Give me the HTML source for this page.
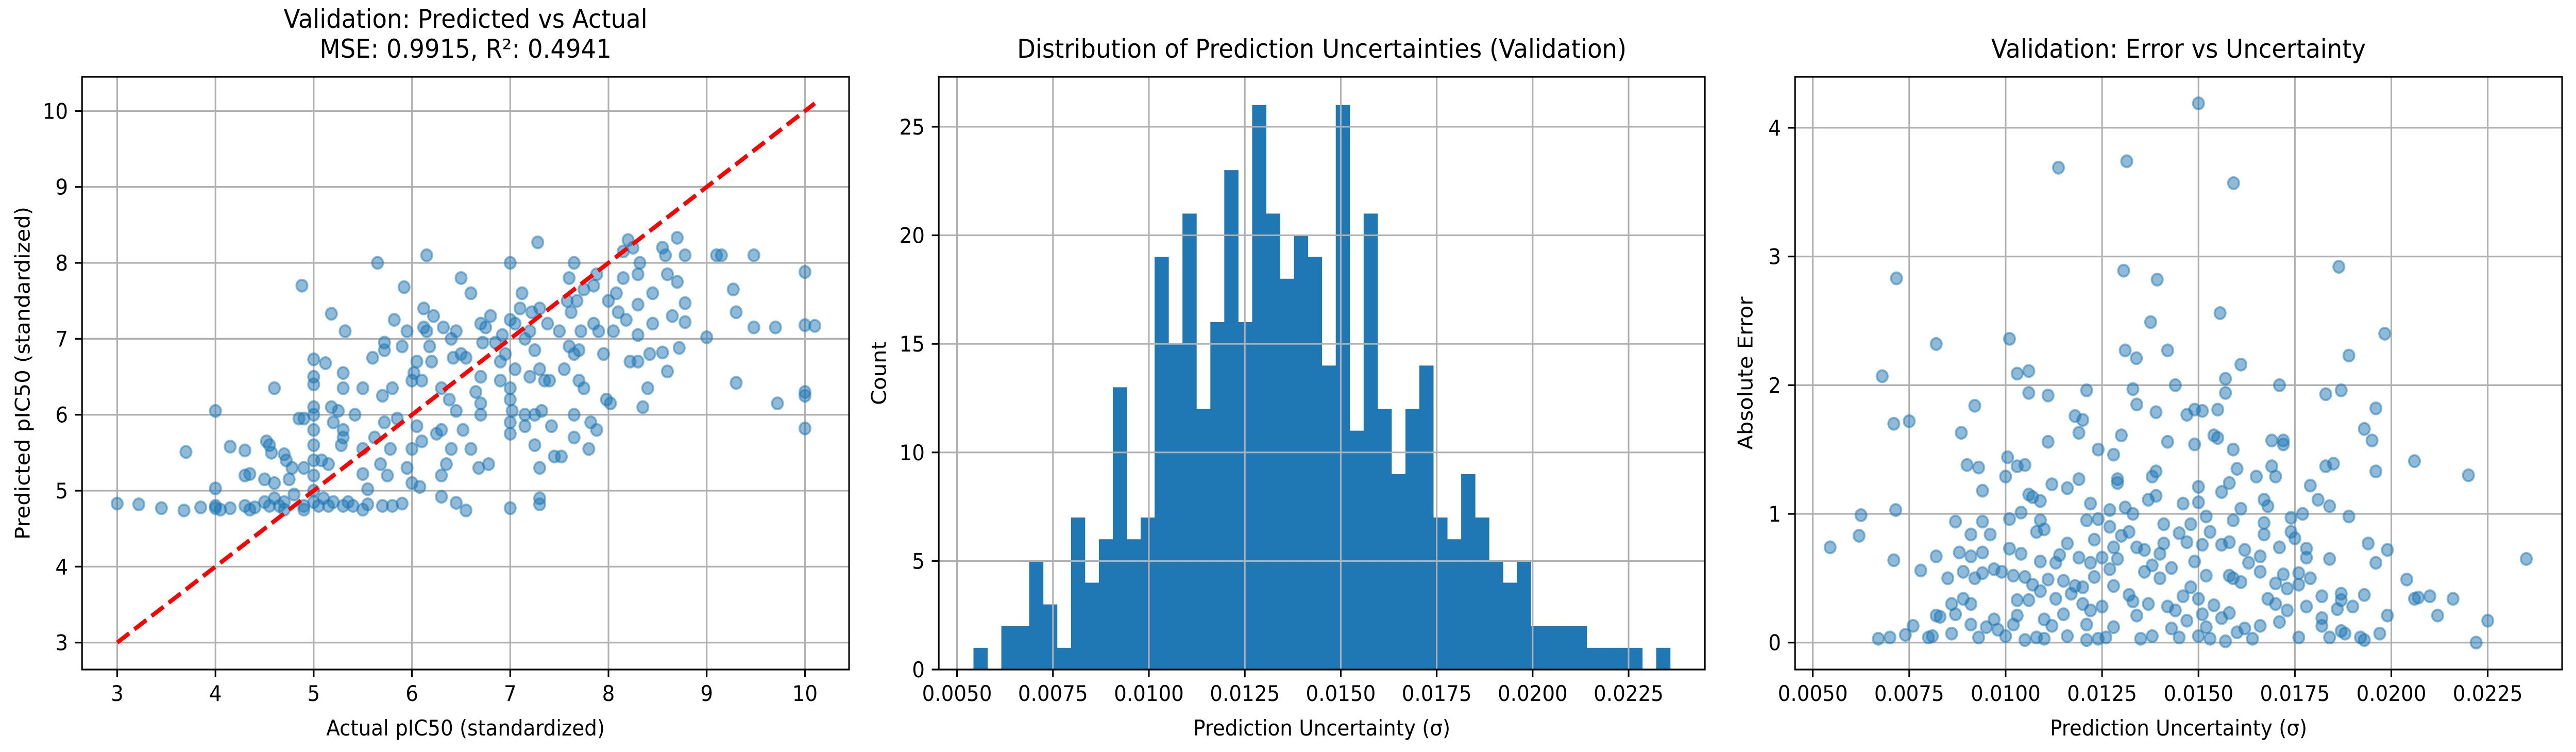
<!DOCTYPE html>
<html><head><meta charset="utf-8"><style>
html,body{margin:0;padding:0;background:#fff;width:100%;height:100%;overflow:hidden;}
svg{display:block;position:fixed;left:0;top:0;width:100vw;height:100vh;font-family:"DejaVu Sans","Liberation Sans",sans-serif;}
</style></head><body>
<svg id="fig" viewBox="0 0 5370 1459" preserveAspectRatio="none" xmlns="http://www.w3.org/2000/svg"></svg>
<script>
// ---------- Panel 1 data: predicted vs actual ----------
const p1Actual = [3.0,3.22,3.45,3.68,3.85,4.0,4.0,4.0,4.05,4.15,4.3,4.35,4.4,4.5,4.55,4.6,4.65,4.7,4.7,4.8,4.9,4.9,5.0,5.05,5.1,5.15,5.2,5.3,5.35,5.4,5.5,5.55,5.7,5.8,5.9,6.3,6.45,6.55,7.0,7.3,7.3,
3.7,4.0,4.15,4.3,4.3,4.35,4.5,4.52,4.55,4.57,4.6,4.6,4.7,4.72,4.75,4.78,4.85,4.88,4.9,4.9,5.0,5.0,5.0,5.0,5.0,5.0,5.0,5.0,5.0,5.0,5.08,5.12,5.15,5.18,5.18,5.2,5.25,5.28,5.3,5.3,5.3,5.3,5.32,5.42,5.5,5.5,5.5,5.55,5.6,5.62,5.65,5.68,5.7,5.72,5.72,5.72,5.75,5.78,5.8,5.82,5.85,5.9,5.92,5.95,5.95,6.0,6.0,6.0,6.02,6.05,6.05,6.08,6.1,6.1,6.12,6.12,6.15,6.15,6.18,6.2,6.22,6.25,6.3,6.3,6.3,6.32,6.35,6.38,6.4,6.4,6.42,6.45,6.45,6.5,6.5,6.52,6.55,6.6,6.6,6.65,6.68,6.7,6.7,6.7,6.7,6.72,6.75,6.78,6.8,6.85,6.9,6.9,6.92,6.95,7.0,7.0,7.0,7.0,7.0,7.0,7.02,7.05,7.05,7.1,7.12,7.15,7.15,7.15,7.2,7.2,7.22,7.25,7.25,7.25,7.28,7.3,7.3,7.3,7.32,7.35,7.38,7.4,7.42,7.45,7.5,7.52,7.55,7.58,7.6,7.6,7.62,7.65,7.65,7.65,7.65,7.68,7.7,7.7,7.72,7.75,7.75,7.8,7.82,7.85,7.85,7.88,7.88,7.9,7.95,7.98,8.0,8.02,8.05,8.08,8.1,8.15,8.15,8.18,8.2,8.22,8.25,8.3,8.3,8.3,8.3,8.32,8.35,8.4,8.42,8.45,8.45,8.55,8.55,8.58,8.6,8.6,8.65,8.7,8.7,8.72,8.78,8.78,8.78,9.0,9.1,9.15,9.27,9.3,9.3,9.48,9.48,9.7,9.72,10.0,10.0,10.0,10.0,10.0,10.1];
const p1Pred = [4.83,4.82,4.77,4.74,4.78,4.8,5.03,4.77,4.75,4.77,4.8,4.75,4.78,4.85,4.8,4.9,4.8,4.75,4.85,4.95,4.75,4.8,4.85,4.8,4.9,4.8,4.85,4.8,4.85,4.8,4.75,4.82,4.8,4.8,4.83,4.92,4.84,4.74,4.77,4.82,4.9,
5.51,6.05,5.58,5.53,5.2,5.22,5.15,5.65,5.6,5.5,5.1,6.35,5.48,5.4,5.15,5.3,5.95,7.7,5.3,5.95,5.0,5.2,5.4,5.6,5.8,6.0,6.1,6.4,6.5,6.73,5.4,6.68,5.35,7.33,6.1,5.9,6.05,5.6,5.8,5.7,6.35,6.55,7.1,6.0,5.55,5.22,6.35,5.02,6.75,5.7,8.0,5.35,6.25,6.95,6.85,5.9,5.2,5.55,6.35,7.25,5.95,6.9,7.68,7.1,5.3,5.55,5.1,6.45,6.55,6.7,5.85,5.05,5.65,6.45,7.4,7.15,8.1,7.1,6.9,6.7,7.3,5.75,5.2,5.8,6.35,7.15,5.35,6.2,7.0,5.55,6.75,7.1,6.05,7.8,6.8,5.8,6.75,7.6,5.55,6.3,5.3,6.0,6.15,6.5,7.2,6.95,7.15,5.35,7.3,6.95,6.45,6.7,7.05,6.8,8.0,5.9,5.75,6.2,6.35,7.25,6.05,7.2,6.6,7.4,7.6,6.0,5.85,7.0,6.5,7.1,7.35,6.0,5.6,6.85,8.27,5.3,6.6,7.4,6.05,6.45,7.2,6.45,5.85,5.45,7.1,5.45,6.6,7.5,7.8,6.9,7.35,8.0,6.0,5.7,6.8,7.5,6.45,6.85,7.1,7.65,6.35,5.55,5.9,7.2,7.7,5.8,7.85,7.1,6.8,6.2,7.5,6.15,7.1,7.6,7.35,7.8,8.15,7.25,8.3,6.7,8.2,7.45,7.05,6.7,7.85,8.0,6.1,6.35,6.8,7.2,7.6,8.2,6.82,8.1,6.57,7.85,7.3,8.33,7.75,6.88,8.1,7.47,7.22,7.02,8.1,8.1,7.65,7.35,6.42,8.1,7.15,7.15,6.15,7.88,7.18,6.3,6.25,5.82,7.17];
const p1XTicks = [3,4,5,6,7,8,9,10];
const p1YTicks = [3,4,5,6,7,8,9,10];

// ---------- Panel 2 data: histogram ----------
const histCounts = [1,0,2,2,5,3,1,7,4,6,13,6,7,19,15,21,12,16,23,16,26,21,18,20,19,14,26,11,21,12,9,12,14,7,6,9,7,5,4,5,2,2,2,2,1,1,1,1,0,1];
const histMin = 0.005429;
const histMax = 0.023584;
const p2XTicks = [0.005,0.0075,0.01,0.0125,0.015,0.0175,0.02,0.0225];
const p2XLabels = ["0.0050","0.0075","0.0100","0.0125","0.0150","0.0175","0.0200","0.0225"];
const p2YTicks = [0,5,10,15,20,25];

// ---------- Panel 3 data: error vs uncertainty ----------
const p3Unc = [
0.00545,0.0062,0.00625,0.0067,0.0068,0.0070,0.0071,0.0071,0.00715,0.00717,
0.0074,0.0075,0.0076,0.0078,0.0080,0.0081,0.0082,0.0082,0.0082,0.0083,
0.0085,0.0086,0.0086,0.0087,0.0087,0.0088,0.00885,0.0089,0.0089,0.0090,
0.0091,0.0091,0.0091,0.0091,0.0092,0.0092,0.0093,0.0093,0.0094,0.0094,
0.0094,0.0094,0.0095,0.0096,0.0097,0.0097,0.0098,0.0099,0.0100,0.0100,
0.01005,0.0101,0.0101,0.0101,0.0102,0.0102,0.0103,0.0103,0.0103,0.0103,
0.0104,0.0104,0.0105,0.0105,0.0105,0.0106,0.0106,0.0106,0.0106,0.0107,
0.0107,0.0108,0.0108,0.0109,0.0109,0.0109,0.0109,0.0110,0.0110,0.0110,
0.0111,0.0111,0.0111,0.0112,0.0112,0.0113,0.0113,0.01137,0.0114,0.0115,
0.0115,0.0116,0.0116,0.0116,0.0117,0.0118,0.0118,0.0119,0.0119,0.0119,
0.0120,0.0120,0.0120,0.0121,0.0121,0.0121,0.0121,0.0122,0.0122,0.0122,
0.0123,0.0123,0.0124,0.0124,0.0124,0.0125,0.0125,0.0126,0.0127,0.0127,
0.0127,0.0128,0.0128,0.0128,0.0128,0.0129,0.0129,0.0129,0.0130,0.0130,
0.0131,0.01306,0.0131,0.0132,0.0132,0.0133,0.01314,0.0133,0.0133,0.0134,
0.0134,0.0134,0.01339,0.0135,0.0136,0.0136,0.0137,0.0137,0.0138,0.0138,
0.0138,0.01376,0.0139,0.0139,0.0139,0.0140,0.0140,0.01393,0.0141,0.0141,
0.0142,0.0142,0.0142,0.0143,0.0143,0.0144,0.0144,0.0145,0.0145,0.0146,
0.0146,0.0147,0.0147,0.0147,0.0148,0.0148,0.0149,0.0149,0.0150,0.0150,
0.0149,0.0150,0.0150,0.0150,0.0151,0.0151,0.0151,0.0152,0.0152,0.0152,
0.0153,0.0153,0.0154,0.0154,0.0155,0.0155,0.0156,0.0156,0.01556,0.0156,
0.0157,0.0157,0.0157,0.0158,0.0158,0.0158,0.0158,0.01591,0.0159,0.0159,
0.0159,0.0160,0.0160,0.0161,0.0161,0.0161,0.0162,0.0162,0.0163,0.0164,
0.0165,0.0166,0.0166,0.0166,0.0167,0.0167,0.0167,0.0168,0.0168,0.0169,
0.0169,0.0170,0.0170,0.0170,0.0171,0.0171,0.0171,0.0172,0.0172,0.0172,
0.0173,0.0173,0.0174,0.0174,0.0175,0.0176,0.0176,0.0176,0.0177,0.0178,
0.0178,0.0178,0.0179,0.0179,0.0181,0.0182,0.0182,0.0182,0.0183,0.0183,
0.0184,0.0184,0.0184,0.0185,0.01864,0.0186,0.0187,0.0187,0.0187,0.0187,
0.0188,0.01890,0.0189,0.0190,0.0192,0.0193,0.0193,0.0193,0.0194,0.0195,
0.0196,0.0196,0.0196,0.0197,0.01983,0.0199,0.0199,0.0204,0.0206,0.0206,
0.0207,0.0210,0.0212,0.0216,0.0220,0.0222,0.0225,0.0235];
const p3Err = [
0.74,0.83,0.99,0.03,2.07,0.04,1.70,0.64,1.03,2.83,
0.06,1.72,0.13,0.56,0.04,0.05,2.32,0.67,0.21,0.20,
0.50,0.07,0.30,0.22,0.94,0.70,1.63,0.34,0.55,1.38,
0.84,0.67,0.30,0.14,1.84,0.50,1.36,0.04,0.94,1.18,
0.54,0.70,0.12,0.84,0.57,0.18,0.10,0.55,1.29,0.05,
1.44,2.36,0.73,0.96,0.52,0.14,1.37,2.09,0.33,0.21,
0.69,1.01,1.38,0.51,0.02,1.94,2.11,1.15,0.33,1.13,
0.45,0.86,0.04,1.10,0.63,0.95,0.40,0.88,0.18,0.03,
1.92,1.56,0.49,1.23,0.13,0.62,0.34,3.69,0.68,0.22,
0.48,1.20,0.05,0.77,0.38,1.76,0.44,1.63,1.27,0.66,
1.73,0.43,0.30,0.95,0.02,0.14,1.96,1.08,0.62,0.25,
0.51,0.80,0.96,0.03,1.50,0.28,0.66,0.04,1.03,0.57,
0.90,1.46,0.44,0.74,0.12,1.27,1.24,0.65,1.61,0.83,
2.27,2.89,1.05,0.86,0.37,1.97,3.74,1.00,0.32,1.85,
0.74,0.21,2.21,0.03,0.55,0.72,1.11,0.30,0.60,0.05,
1.29,2.49,1.79,1.33,1.14,0.69,0.50,2.82,0.92,0.77,
2.27,1.56,0.28,0.58,0.11,2.00,0.25,0.85,0.04,1.08,
0.36,1.77,0.78,0.17,0.92,0.43,1.81,0.63,0.05,1.21,
1.54,4.19,1.09,0.34,0.22,1.80,0.76,0.12,0.52,0.98,
0.86,0.03,1.61,0.29,1.59,1.81,0.76,0.19,2.56,1.17,
1.94,2.05,0.01,0.52,1.24,0.78,0.23,3.57,1.50,0.95,
0.50,0.08,1.35,0.47,2.16,1.04,0.11,0.72,0.62,0.03,
1.29,0.55,0.67,0.13,1.11,0.93,0.84,1.06,0.34,1.57,
1.37,0.46,0.30,1.29,0.74,0.16,2.00,0.53,1.57,1.54,
0.25,0.42,0.97,0.86,0.81,0.54,0.45,0.04,1.00,0.66,
0.73,0.28,1.22,0.50,1.11,0.36,0.19,0.13,1.37,1.93,
1.06,0.04,0.65,1.39,2.92,0.26,0.38,0.33,1.96,0.09,
0.07,2.23,0.98,0.28,0.04,0.37,0.02,1.66,0.77,1.57,
1.82,0.62,1.33,0.07,2.40,0.72,0.21,0.49,0.34,1.41,
0.35,0.36,0.21,0.34,1.30,0.00,0.17,0.65];
const p3YTicks = [0,1,2,3,4];

// ---------- drawing helpers ----------
const NS = "http://www.w3.org/2000/svg";
const svg = document.getElementById('fig');
function el(tag, attrs, parent){
  const e = document.createElementNS(NS, tag);
  for (const k in attrs) e.setAttribute(k, attrs[k]);
  (parent||svg).appendChild(e);
  return e;
}
function txt(s, attrs, parent){ const t = el('text', attrs, parent); t.textContent = s; return t; }
const FS = 41.7, TICK = 14.6, LW = 3.3, GRID = '#b0b0b0';
const BLUE = '#1f77b4';

function makeAxes(box, xlim, ylim){
  const sx = v => box.l + (v - xlim[0]) / (xlim[1]-xlim[0]) * (box.r - box.l);
  const sy = v => box.b - (v - ylim[0]) / (ylim[1]-ylim[0]) * (box.b - box.t);
  return {sx, sy};
}
function drawGrid(g, box, ax, xt, yt){
  xt.forEach(v => {
    const l = el('line', {x1:ax.sx(v), x2:ax.sx(v), y1:box.t, y2:box.b, stroke:GRID, 'stroke-width':LW}, g);
    
    
  });
  yt.forEach(v => {
    const l = el('line', {x1:box.l, x2:box.r, y1:ax.sy(v), y2:ax.sy(v), stroke:GRID, 'stroke-width':LW}, g);
    
    
  });
}
function drawFrameTicks(g, box, ax, xt, xl, yt, yl){
  const f = el('rect', {x:box.l, y:box.t, width:box.r-box.l, height:box.b-box.t, fill:'none', stroke:'#000', 'stroke-width':LW}, g);
  
  
  xt.forEach((v,i) => {
    el('line', {x1:ax.sx(v), x2:ax.sx(v), y1:box.b, y2:box.b+TICK, stroke:'#000', 'stroke-width':LW}, g);
    const t = txt(xl[i], {x:ax.sx(v), y:box.b+TICK+14.6+FS*0.76, 'font-size':FS, 'text-anchor':'middle', fill:'#000'}, g);
    
    
  });
  yt.forEach((v,i) => {
    el('line', {x1:box.l-TICK, x2:box.l, y1:ax.sy(v), y2:ax.sy(v), stroke:'#000', 'stroke-width':LW}, g);
    const t = txt(yl[i], {x:box.l-TICK-14.6, y:ax.sy(v)+FS*0.36, 'font-size':FS, 'text-anchor':'end', fill:'#000'}, g);
    
    
  });
}
function labels(g, box, title, xlab, ylab, ylabX){
  const cx = (box.l+box.r)/2;
  title.forEach((s,i) => {
    const t = txt(s, {x:cx, y:box.t-25-(title.length-1-i)*58-12, 'font-size':50, 'text-anchor':'middle', fill:'#000'}, g);
    
    
  });
  const xl = txt(xlab, {x:cx, y:1427, 'font-size':FS, 'text-anchor':'middle', fill:'#000'}, g);
  
  
  const cy = (box.t+box.b)/2;
  const yl = txt(ylab, {x:ylabX, y:cy, 'font-size':FS, 'text-anchor':'middle', fill:'#000', transform:`rotate(-90 ${ylabX} ${cy})`}, g);
  
  
}
function scatter(g, ax, xs, ys, name){
  const n = Math.min(xs.length, ys.length);
  for (let i = 0; i < n; i++){
    const c = el('circle', {cx:ax.sx(xs[i]), cy:ax.sy(ys[i]), r:11.5, fill:BLUE, 'fill-opacity':0.5, stroke:BLUE, 'stroke-opacity':0.5, 'stroke-width':4}, g);
    
    
  }
}

// ---------- Panel 1 ----------
(function(){
  const box = {l:171, r:1770, t:149, b:1299};
  const g = el('g', {});
  
  
  const ax = makeAxes(box, [2.642, 10.449], [2.645, 10.45]);
  drawGrid(g, box, ax, p1XTicks, p1YTicks);
  scatter(g, ax, p1Actual, p1Pred, 'prediction-point');
  const lo = Math.min(...p1Actual), hi = Math.max(...p1Actual);
  const d = el('line', {x1:ax.sx(lo), y1:ax.sy(lo), x2:ax.sx(hi), y2:ax.sy(hi), stroke:'#ff0000', 'stroke-width':8.3, 'stroke-dasharray':'30.8 13.3'}, g);
  
  
  drawFrameTicks(g, box, ax, p1XTicks, p1XTicks.map(String), p1YTicks, p1YTicks.map(String));
  labels(g, box, ['Validation: Predicted vs Actual', 'MSE: 0.9915, R²: 0.4941'], 'Actual pIC50 (standardized)', 'Predicted pIC50 (standardized)', 62);
})();

// ---------- Panel 2 ----------
(function(){
  const box = {l:1957, r:3554, t:149, b:1299};
  const g = el('g', {});
  
  
  const x0 = 0.005 - (1995-1957)/80000;
  const ax = makeAxes(box, [x0, x0 + (3554-1957)/80000], [0, 27.3]);
  const w = (histMax - histMin) / histCounts.length;
  histCounts.forEach((c,i) => {
    if (c <= 0) return;
    const a = ax.sx(histMin + i*w), b = ax.sx(histMin + (i+1)*w);
    const r = el('rect', {x:a, y:ax.sy(c), width:b-a+0.5, height:ax.sy(0)-ax.sy(c), fill:BLUE}, g);
    
    
  });
  drawGrid(g, box, ax, p2XTicks, p2YTicks);
  drawFrameTicks(g, box, ax, p2XTicks, p2XLabels, p2YTicks, p2YTicks.map(String));
  labels(g, box, ['Distribution of Prediction Uncertainties (Validation)'], 'Prediction Uncertainty (σ)', 'Count', 1847);
})();

// ---------- Panel 3 ----------
(function(){
  const box = {l:3742, r:5341, t:149, b:1299};
  const g = el('g', {});
  
  
  const pxu = (5186-3779)/0.0175;
  const x0 = 0.005 - (3779-3742)/pxu;
  const ppy = 249.7;
  const ax = makeAxes(box, [x0, x0 + (5341-3742)/pxu], [-(1299-1246.7)/ppy, (1246.7-149)/ppy]);
  drawGrid(g, box, ax, p2XTicks, p3YTicks);
  scatter(g, ax, p3Unc, p3Err, 'error-point');
  drawFrameTicks(g, box, ax, p2XTicks, p2XLabels, p3YTicks, p3YTicks.map(String));
  labels(g, box, ['Validation: Error vs Uncertainty'], 'Prediction Uncertainty (σ)', 'Absolute Error', 3653);
})();
</script>
</body></html>
